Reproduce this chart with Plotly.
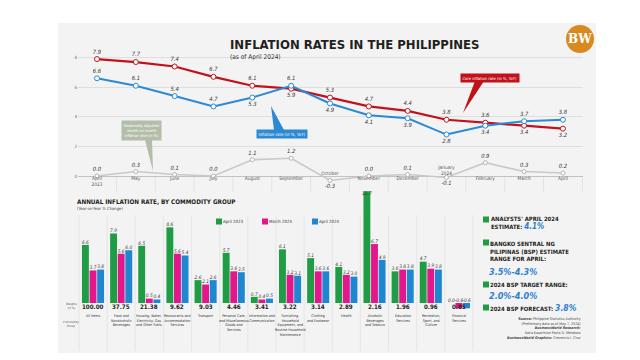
import plotly.graph_objects as go

W, H = 640, 360
def px(x): return x / W
def py(y): return 1 - y / H

FONT = "Liberation Sans Narrow, Arial Narrow, DejaVu Sans Condensed, sans-serif"
DARK = "#231f20"
RED = "#c1121c"
BLUE = "#2b8ad3"
GREY_LINE = "#c9c9c9"
GREEN = "#1f9d45"
MAGENTA = "#e3178b"
BARBLUE = "#1f87d2"
PCT_BLUE = "#2d7fcf"

# ---------------- data: top chart ----------------
months = ["April<br>2023", "May", "June", "July", "August", "September", "October",
          "November", "December", "January<br>2024", "February", "March", "April"]
core = [7.9, 7.7, 7.4, 6.7, 6.1, 5.9, 5.3, 4.7, 4.4, 3.8, 3.6, 3.4, 3.2]
headline = [6.6, 6.1, 5.4, 4.7, 5.3, 6.1, 4.9, 4.1, 3.9, 2.8, 3.4, 3.7, 3.8]
mom = [0.0, 0.3, 0.1, 0.0, 1.1, 1.2, -0.3, 0.0, 0.1, -0.1, 0.9, 0.3, 0.2]
y_ticks = [0, 2, 4, 6, 8]

# ---------------- data: bar chart ----------------
groups = ["All Items", "Food and<br>Nonalcoholic<br>Beverages",
          "Housing, Water,<br>Electricity, Gas<br>and Other Fuels",
          "Restaurants and<br>Accommodation<br>Services", "Transport",
          "Personal Care,<br>and Miscellaneous<br>Goods and<br>Services",
          "Information and<br>Communication",
          "Furnishing,<br>Household<br>Equipment, and<br>Routine Household<br>Maintenance",
          "Clothing<br>and Footwear", "Health",
          "Alcoholic<br>Beverages<br>and Tobacco", "Education<br>Services",
          "Recreation,<br>Sport, and<br>Culture", "Financial<br>Services"]
weights = [100.00, 37.75, 21.38, 9.62, 9.03, 4.46, 3.41, 3.22, 3.14, 2.89, 2.16, 1.96, 0.96, 0.05]
apr23 = [6.6, 7.9, 6.5, 8.6, 2.6, 5.7, 0.7, 6.1, 5.1, 4.1, 12.7, 3.6, 4.7, 0.0]
mar24 = [3.7, 5.6, 0.5, 5.6, 2.1, 3.6, 0.4, 3.2, 3.6, 3.2, 6.7, 3.8, 3.9, -0.6]
apr24 = [3.8, 6.0, 0.4, 5.4, 2.6, 3.5, 0.5, 3.1, 3.6, 3.0, 4.9, 3.8, 3.8, -0.6]
series_names = ["April 2023", "March 2024", "April 2024"]

fig = go.Figure()

# ---- top chart ----
mi = list(range(len(months)))
core_pos = ["top center"] * len(core)
for i in (5, 11, 12):
    core_pos[i] = "bottom center"
head_pos = ["top center"] * len(headline)
for i in (4, 6, 7, 8, 9, 10):
    head_pos[i] = "bottom center"
mom_pos = ["bottom center" if v < 0 else "top center" for v in mom]
month_pos = ["top center" if v < 0 else "bottom center" for v in mom]

lbl_font = dict(family=FONT, size=5.8, color="#333", style="italic")

fig.add_trace(go.Scatter(x=mi, y=mom, mode="lines+markers+text",
                         line=dict(color=GREY_LINE, width=1.6),
                         marker=dict(size=4, color="white", line=dict(color="#b5b5b5", width=1)),
                         text=[f"{v:.1f}" for v in mom], textposition=mom_pos,
                         textfont=lbl_font, xaxis="x", yaxis="y", showlegend=False,
                         cliponaxis=False))
fig.add_trace(go.Scatter(x=mi, y=[0] * len(mi), mode="text", text=months,
                         textposition=month_pos,
                         textfont=dict(family=FONT, size=4.8, color="#555"),
                         xaxis="x", yaxis="y", showlegend=False, cliponaxis=False))
fig.add_trace(go.Scatter(x=mi, y=core, mode="lines+markers+text",
                         line=dict(color=RED, width=2.2),
                         marker=dict(size=5, color="white", line=dict(color=RED, width=1)),
                         text=[f"{v:.1f}" for v in core], textposition=core_pos,
                         textfont=lbl_font, xaxis="x", yaxis="y", showlegend=False,
                         cliponaxis=False))
fig.add_trace(go.Scatter(x=mi, y=headline, mode="lines+markers+text",
                         line=dict(color=BLUE, width=2),
                         marker=dict(size=5, color="white", line=dict(color=BLUE, width=1)),
                         text=[f"{v:.1f}" for v in headline], textposition=head_pos,
                         textfont=lbl_font, xaxis="x", yaxis="y", showlegend=False,
                         cliponaxis=False))

# ---- bar chart ----
gi = list(range(len(groups)))
bar_colors = [GREEN, MAGENTA, BARBLUE]
centers = [-0.27, 0.0, 0.27]
bw = 0.245
for vals, col, c, name in zip([apr23, mar24, apr24], bar_colors, centers, series_names):
    fig.add_trace(go.Bar(x=gi, y=vals, width=bw, offset=c - bw / 2, marker_color=col,
                         marker_line_width=0, name=name, xaxis="x2", yaxis="y2",
                         showlegend=False))
    fig.add_trace(go.Scatter(x=[g + c for g in gi], y=[max(v, 0) for v in vals],
                             mode="text", text=[f"{v:.1f}" for v in vals],
                             textposition=["bottom center" if v > 12 else "top center" for v in vals],
                             textfont=dict(family=FONT, size=4.8, color="#333", style="italic"),
                             xaxis="x2", yaxis="y2", showlegend=False, cliponaxis=False))

shapes = []
# panel background
shapes.append(dict(type="rect", xref="paper", yref="paper", x0=px(50), x1=px(588),
                   y0=py(345), y1=py(15), fillcolor="#f3f3f3", line_width=0, layer="below"))
# month separators under zero line
for k in range(-1, len(months)):
    shapes.append(dict(type="line", xref="x", yref="y", x0=k + 0.5, x1=k + 0.5, y0=0, y1=-1.1,
                       line=dict(color="#dedede", width=0.8), layer="below"))
# commodity separators
for k in range(-1, len(groups)):
    shapes.append(dict(type="line", xref="x2", yref="paper", x0=k + 0.5, x1=k + 0.5,
                       y0=py(343), y1=py(207), line=dict(color="#e2e2e2", width=0.8),
                       layer="below"))
# BW logo
shapes.append(dict(type="circle", xref="paper", yref="paper", x0=px(558), x1=px(586),
                   y0=py(45), y1=py(17), fillcolor="#d98a1e", line_width=0))
# callout pointers
shapes.append(dict(type="path", xref="paper", yref="paper",
                   path=f"M {px(137)},{py(132)} L {px(144)},{py(132)} L {px(145)},{py(163)} Z",
                   fillcolor="#b3bda9", line_width=0))
shapes.append(dict(type="path", xref="paper", yref="paper",
                   path=f"M {px(266)},{py(122)} L {px(276)},{py(122)} L {px(263)},{py(98)} Z",
                   fillcolor=BLUE, line_width=0))
shapes.append(dict(type="path", xref="paper", yref="paper",
                   path=f"M {px(467)},{py(73)} L {px(476)},{py(73)} L {px(455)},{py(105)} Z",
                   fillcolor=RED, line_width=0))
# legend squares
for col, x0 in zip(bar_colors, [208, 254, 304]):
    shapes.append(dict(type="rect", xref="paper", yref="paper", x0=px(x0), x1=px(x0 + 6),
                       y0=py(216.5), y1=py(210.5), fillcolor=col, line_width=0))
# right-panel green squares
for y0 in [208.5, 231.5, 273.5, 296.5]:
    shapes.append(dict(type="rect", xref="paper", yref="paper", x0=px(475), x1=px(481),
                       y0=py(y0 + 6), y1=py(y0), fillcolor=GREEN, line_width=0))

ann = []
def A(x, y, text, size, color=DARK, xanchor="left", yanchor="middle", align="left", family=FONT, **kw):
    ann.append(dict(x=px(x), y=py(y), xref="paper", yref="paper", text=text, showarrow=False,
                    xanchor=xanchor, yanchor=yanchor, align=align,
                    font=dict(family=family, size=size, color=color), **kw))

A(220, 37, "<b>INFLATION RATES IN THE PHILIPPINES</b>", 13)
A(220, 49.5, "(as of April 2024)", 6.5, color="#333")
A(572, 31, "<b>BW</b>", 12, color="white", xanchor="center", family="DejaVu Serif, serif")

A(133.5, 122.5, "Seasonally adjusted<br>month-on-month<br>inflation rate (in %)", 3.9,
  color="white", xanchor="center", align="center", bgcolor="#b3bda9", borderpad=2)
A(274, 125.5, "Inflation rate (in %, YoY)", 4.3, color="white", xanchor="center",
  bgcolor=BLUE, borderpad=1.5)
A(481.5, 70.5, "Core inflation rate (in %, YoY)", 4.1, color="white", xanchor="center",
  bgcolor=RED, borderpad=1.5)

A(67, 193, "<b>ANNUAL INFLATION RATE, BY COMMODITY GROUP</b>", 6.3)
A(67, 200.5, "(Year-on-Year % Change)", 4.2, color="#444")
for name, x0 in zip(series_names, [213, 259, 309]):
    A(x0, 213.5, name, 4.3, color="#333")

A(63, 298, "Weights<br>(in %)", 3, color="#555", xanchor="center", align="center")
A(63, 316, "Commodity<br>Group", 3, color="#555", xanchor="center", align="center")
for i, (g, w) in enumerate(zip(groups, weights)):
    ann.append(dict(x=i, y=py(298.5), xref="x2", yref="paper", text=f"<b>{w:.2f}</b>",
                    showarrow=False, xanchor="center", yanchor="middle",
                    font=dict(family=FONT, size=6.2, color=DARK)))
    ann.append(dict(x=i, y=py(304), xref="x2", yref="paper", text=g, showarrow=False,
                    xanchor="center", yanchor="top", align="center",
                    font=dict(family=FONT, size=3.6, color="#333")))

A(481, 215.5, "<b>ANALYSTS' APRIL 2024<br>ESTIMATE: <i><span style='color:%s;font-size:8px'>4.1%%</span></i></b>" % PCT_BLUE,
  5.9)
A(480, 243.5, "<b>BANGKO SENTRAL NG<br>PILIPINAS (BSP) ESTIMATE<br>RANGE FOR APRIL:</b>", 5.9)
A(479, 263.5, "<b><i>3.5%-4.3%</i></b>", 9, color=PCT_BLUE)
A(480, 277, "<b>2024 BSP TARGET RANGE:</b>", 5.9)
A(479, 287.5, "<b><i>2.0%-4.0%</i></b>", 9, color=PCT_BLUE)
A(480, 299.5, "<b>2024 BSP FORECAST: <i><span style='color:%s;font-size:8.5px'>3.8%%</span></i></b>" % PCT_BLUE,
  5.9)
A(575, 320, "<b>Source:</b> Philippine Statistics Authority<br>(Preliminary data as of May 7, 2024)<br>"
  "<b><i>BusinessWorld Research:</i></b><br>Karis Kasarinlan Paolo D. Mendoza<br>"
  "<b><i>BusinessWorld Graphics:</i></b> Crecencio I. Cruz", 3.6, color="#444",
  xanchor="right", align="right")

fig.update_layout(
    width=W, height=H, margin=dict(l=0, r=0, t=0, b=0),
    paper_bgcolor="white", plot_bgcolor="rgba(0,0,0,0)",
    barmode="overlay", showlegend=False,
    shapes=shapes, annotations=ann,
    xaxis=dict(domain=[px(70), px(575)], range=[-0.489, 12.516], visible=False, fixedrange=True),
    yaxis=dict(domain=[py(190), py(30)], range=[-1.486, 9.324], tickvals=y_ticks,
               ticktext=[str(t) for t in y_ticks], showgrid=True, gridcolor="#dedede",
               gridwidth=0.8, zeroline=True, zerolinecolor="#c2c2c2", zerolinewidth=1.2,
               showline=False, ticks="", ticklen=0,
               tickfont=dict(family=FONT, size=4.5, color="#777")),
    xaxis2=dict(domain=[px(57), px(470)], range=[-0.995, 13.677], visible=False,
                anchor="y2"),
    yaxis2=dict(domain=[py(310), py(175)], range=[-1.705, 13.64], visible=False,
                anchor="x2"),
)

fig.write_html("out.html")
